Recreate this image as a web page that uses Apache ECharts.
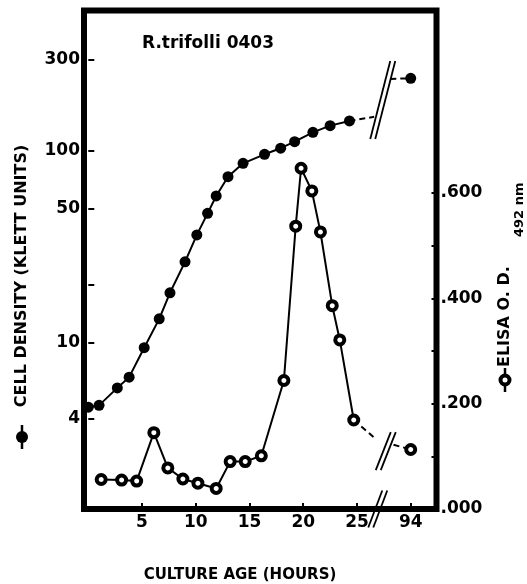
<!DOCTYPE html>
<html><head><meta charset="utf-8">
<script src="https://cdn.jsdelivr.net/npm/echarts@6/dist/echarts.min.js"></script>
<style>html,body{margin:0;padding:0;background:#fff}#c{width:527px;height:584px}</style>
</head><body><div id="c"></div>
<script>
const FONT = '"DejaVu Sans", sans-serif';

// ---- data ----
const cellHours   = [0, 1.0, 2.7, 3.8, 5.2, 6.6, 7.6, 9.0, 10.1, 11.1, 11.9, 13.0, 14.4, 16.4, 17.9, 19.2, 20.9, 22.5, 24.3];
const cellDensity = [4.6, 4.7, 5.8, 6.6, 9.4, 13.3, 18.2, 26.4, 36.5, 47.3, 58.3, 73.5, 86.3, 96.2, 103.5, 112, 125.3, 135.8, 143.6];
const cellLateHour = 94;
const cellLateValue = 240;
const cellBreakEnds = [[26.6, 151], [92.1, 238]];

const elisaHours = [1.2, 3.1, 4.5, 6.1, 7.4, 8.8, 10.2, 11.9, 13.2, 14.6, 16.1, 18.2, 19.3, 19.8, 20.8, 21.6, 22.7, 23.4, 24.7];
const elisaOD    = [0.056, 0.055, 0.053, 0.145, 0.078, 0.057, 0.049, 0.039, 0.090, 0.090, 0.101, 0.244, 0.537, 0.647, 0.604, 0.526, 0.386, 0.321, 0.169];
const elisaLateHour = 94;
const elisaLateValue = 0.113;
const elisaBreakEnds = [[26.7, 0.134], [92.4, 0.122]];

const xTickValues = [5, 10, 15, 20, 25, 94];
const leftTickValues = [4, 10, 20, 50, 100, 300];
const leftLabelValues = [4, 10, 50, 100, 300];
const rightTickValues = [0, 0.1, 0.2, 0.3, 0.4, 0.5, 0.6];
const rightLabelValues = [0, 0.2, 0.4, 0.6];
const hourBreak = { start: 26.8, end: 92, gap: 1.2 };

const titleText = 'R.trifolli 0403';
const xName = 'CULTURE AGE (HOURS)';
const leftName = 'CELL DENSITY (KLETT UNITS)';
const rightName = 'ELISA O. D.';
const rightNameSub = '492 nm';

// ---- chart ----
const chart = echarts.init(document.getElementById('c'), null, { renderer: 'canvas' });
const black = '#000';
const labelStyle = { color: black, fontFamily: FONT, fontWeight: 'bold', fontSize: 17 };

const option = {
  animation: false,
  backgroundColor: '#fff',
  title: {
    text: titleText, left: 142, top: 35, padding: 0,
    textStyle: { color: black, fontFamily: FONT, fontWeight: 'bold', fontSize: 17 }
  },
  grid: {
    left: 84, right: 90.5, top: 10.5, bottom: 75,
    show: true, borderColor: black, borderWidth: 6, backgroundColor: 'transparent',
    containLabel: false, outerBoundsMode: 'none'
  },
  xAxis: {
    type: 'value', min: -0.4, max: 96.4,
    breaks: [hourBreak],
    breakArea: { show: false },
    axisLine: { show: false },
    splitLine: { show: false },
    axisTick: { show: true, inside: true, length: 6, lineStyle: { color: black, width: 2 }, customValues: xTickValues },
    axisLabel: Object.assign({ customValues: xTickValues, margin: 5 }, labelStyle)
  },
  yAxis: [
    {
      type: 'log', logBase: 10, min: 1.352, max: 542.1, position: 'left',
      axisLine: { show: false }, splitLine: { show: false }, minorTick: { show: false },
      axisTick: { show: true, inside: true, length: 6, lineStyle: { color: black, width: 2 }, customValues: leftTickValues },
      axisLabel: Object.assign({ customValues: leftLabelValues, margin: 4 }, labelStyle)
    },
    {
      type: 'value', min: 0, max: 0.9465, position: 'right',
      axisLine: { show: false }, splitLine: { show: false },
      axisTick: { show: true, inside: true, length: 5, lineStyle: { color: black, width: 2 }, customValues: rightTickValues },
      axisLabel: Object.assign({
        customValues: rightLabelValues, margin: 4, padding: [0, 0, 9, 0],
        formatter: v => '.' + String(Math.round(v * 1000)).padStart(3, '0')
      }, labelStyle)
    }
  ],
  series: [
    {
      name: 'ELISA', type: 'line', yAxisIndex: 1, clip: false, z: 3,
      data: elisaHours.map((h, i) => [h, elisaOD[i]]),
      symbol: 'circle', symbolSize: 9,
      itemStyle: { color: '#fff', borderColor: black, borderWidth: 4 },
      lineStyle: { color: black, width: 2 }
    },
    {
      name: 'ELISA tail a', type: 'line', yAxisIndex: 1, clip: false, z: 2,
      data: [[elisaHours[elisaHours.length - 1], elisaOD[elisaOD.length - 1]], elisaBreakEnds[0]],
      showSymbol: false, symbol: 'none',
      lineStyle: { color: black, width: 2, type: [6, 4] }
    },
    {
      name: 'ELISA tail b', type: 'line', yAxisIndex: 1, clip: false, z: 3,
      data: [{ value: elisaBreakEnds[1], symbol: 'none' }, { value: [elisaLateHour, elisaLateValue] }],
      symbol: 'circle', symbolSize: 9,
      itemStyle: { color: '#fff', borderColor: black, borderWidth: 4 },
      lineStyle: { color: black, width: 2, type: [6, 4] }
    },
    {
      name: 'Cell density', type: 'line', yAxisIndex: 0, clip: false, z: 4,
      data: cellHours.map((h, i) => [h, cellDensity[i]]),
      symbol: 'circle', symbolSize: 11,
      itemStyle: { color: black },
      lineStyle: { color: black, width: 2 }
    },
    {
      name: 'Cell tail a', type: 'line', yAxisIndex: 0, clip: false, z: 2,
      data: [[cellHours[cellHours.length - 1], cellDensity[cellDensity.length - 1]], cellBreakEnds[0]],
      showSymbol: false, symbol: 'none',
      lineStyle: { color: black, width: 2, type: [6, 4] }
    },
    {
      name: 'Cell tail b', type: 'line', yAxisIndex: 0, clip: false, z: 4,
      data: [{ value: cellBreakEnds[1], symbol: 'none' }, { value: [cellLateHour, cellLateValue] }],
      symbol: 'circle', symbolSize: 11,
      itemStyle: { color: black },
      lineStyle: { color: black, width: 2, type: [6, 4] }
    }
  ]
};
chart.setOption(option);

// ---- break marks and axis titles ----
const bx0 = chart.convertToPixel({ xAxisIndex: 0 }, hourBreak.start);
const bx1 = chart.convertToPixel({ xAxisIndex: 0 }, hourBreak.end);
const bxm = (bx0 + bx1) / 2;
const yCell = chart.convertToPixel({ yAxisIndex: 0 }, 185);
const yElisa = chart.convertToPixel({ yAxisIndex: 1 }, 0.11);
const yAxisLine = chart.convertToPixel({ yAxisIndex: 1 }, 0);

function slashPair(cx, cy, dx, dy, sep) {
  const out = [];
  [-sep / 2, sep / 2].forEach(o => {
    out.push({
      type: 'line', z: 10,
      shape: { x1: cx + o - dx / 2, y1: cy + dy / 2, x2: cx + o + dx / 2, y2: cy - dy / 2 },
      style: { stroke: black, lineWidth: 1.8 }
    });
  });
  return out;
}

const graphics = []
  .concat(slashPair(bxm, yCell, 20, 78, 5))
  .concat(slashPair(bxm + 3, yElisa, 15, 38, 5))
  .concat(slashPair(bxm - 5, yAxisLine, 14, 37, 5));

// x axis title
graphics.push({
  type: 'text', x: 240, y: 575, z: 10,
  style: { text: xName, fill: black, fontFamily: FONT, fontWeight: 'bold', fontSize: 15, align: 'center', verticalAlign: 'middle' }
});
// left axis title with filled-dot key
graphics.push({
  type: 'group', x: 22, y: 276, rotation: Math.PI / 2, z: 10,
  children: [
    { type: 'text', x: 0, y: 0, style: { text: leftName, fill: black, fontFamily: FONT, fontWeight: 'bold', fontSize: 16, align: 'center', verticalAlign: 'middle' } },
    { type: 'line', shape: { x1: -173, y1: 0, x2: -149, y2: 0 }, style: { stroke: black, lineWidth: 2.5 } },
    { type: 'circle', shape: { cx: -161, cy: 0, r: 6 }, style: { fill: black } }
  ]
});
// right axis title with open-circle key
graphics.push({
  type: 'group', x: 505, y: 320, rotation: Math.PI / 2, z: 10,
  children: [
    { type: 'text', x: -47, y: 0, style: { text: rightName, fill: black, fontFamily: FONT, fontWeight: 'bold', fontSize: 16, align: 'left', verticalAlign: 'middle' } },
    { type: 'text', x: 83, y: 15, style: { text: rightNameSub, fill: black, fontFamily: FONT, fontWeight: 'bold', fontSize: 13, align: 'left', verticalAlign: 'middle' } },
    { type: 'line', shape: { x1: -72, y1: 0, x2: -48, y2: 0 }, style: { stroke: black, lineWidth: 2.5 } },
    { type: 'circle', shape: { cx: -60, cy: 0, r: 4.5 }, style: { fill: '#fff', stroke: black, lineWidth: 4 } }
  ]
});
chart.setOption({ graphic: graphics });
</script>
</body></html>
